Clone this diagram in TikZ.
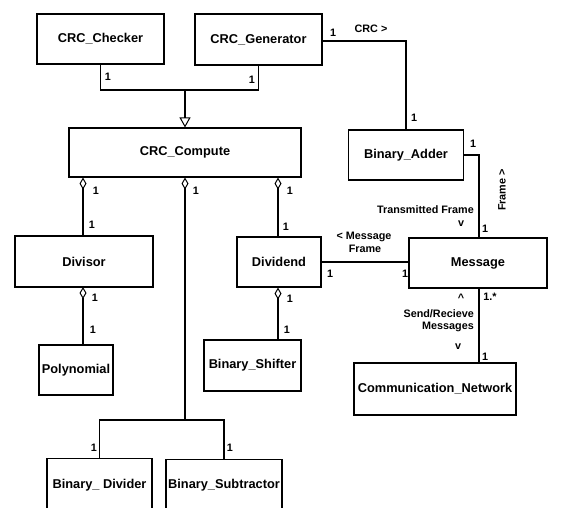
\documentclass[tikz,border=0pt]{standalone}
\usepackage{fontspec}
\setmainfont{Liberation Sans}
\usetikzlibrary{arrows.meta}
\begin{document}
\begin{tikzpicture}[x=1pt,y=-1pt,
  box/.style={draw,line width=1.1pt,inner sep=0pt,font=\fontsize{12.8}{15}\selectfont\bfseries},
  btext/.style={inner sep=0pt,font=\fontsize{12.8}{15}\selectfont\bfseries},
  lbl/.style={inner sep=0pt,font=\fontsize{10.8}{12}\selectfont\bfseries},
  conn/.style={line width=1.1pt},
  agg/.style={conn,{Diamond[open,length=12pt,width=7pt,line width=1pt]}-},
  gen/.style={conn,-{Triangle[open,length=10pt,width=11pt,line width=1pt]}}]
\useasboundingbox (0,0) rectangle (573,507);
% boxes
\node[box,minimum width=127pt,minimum height=50pt] (chk) at (100.5,39) {CRC\_Checker};
\node[box,minimum width=127pt,minimum height=51pt] (gen) at (258.5,39.5) {CRC\_Generator};
\node[box,minimum width=232pt,minimum height=49pt] (cmp) at (185,152.5) {CRC\_Compute};
\node[box,minimum width=115pt,minimum height=50pt] (add) at (406,155) {Binary\_Adder};
\node[box,minimum width=138pt,minimum height=51pt] (dvs) at (84,261.5) {Divisor};
\node[box,minimum width=84pt,minimum height=50pt] (dvd) at (279,262) {Dividend};
\node[box,minimum width=138pt,minimum height=50pt] (msg) at (478,263) {Message};
\node[box,minimum width=74pt,minimum height=50pt] (pol) at (76,370) {Polynomial};
\node[box,minimum width=97pt,minimum height=51pt] (shf) at (252.5,365.5) {Binary\_Shifter};
\node[box,minimum width=162pt,minimum height=52pt] (net) at (435,389) {Communication\_Network};
\node[box,minimum width=105pt,minimum height=62pt,anchor=north] (bdv) at (99.5,458) {};
\node[btext] (bdvt) at (99.5,485) {Binary\_ Divider};
\node[box,minimum width=116pt,minimum height=62pt,anchor=north] (bsb) at (224,459) {};
\node[btext] (bsbt) at (224,485) {Binary\_Subtractor};
% generalization
\coordinate (j) at (185,90);
\draw[conn] (chk.south) |- (j) -| (gen.south);
\draw[gen] (j) -- (cmp.north);
\node[lbl] at (108,77) {1};
\node[lbl] at (252,80) {1};
% aggregations from CRC_Compute
\draw[agg] (cmp.south -| 83,0) -- (83,236);
\draw[agg] (cmp.south) -- (185,420) coordinate (k);
\draw[agg] (cmp.south -| 278,0) -- (dvd.north -| 278,0);
\node[lbl] at (96,191) {1};
\node[lbl] at (92,225) {1};
\node[lbl] at (196,191) {1};
\node[lbl] at (290,191) {1};
\node[lbl] at (286,227) {1};
\draw[conn] (bdv.north) |- (k) -| (bsb.north);
\node[lbl] at (94,448) {1};
\node[lbl] at (230,448) {1};
% Divisor - Polynomial
\draw[agg] (83,287) -- (83,345);
\node[lbl] at (95,298) {1};
\node[lbl] at (93,330) {1};
% Dividend - Binary_Shifter
\draw[agg] (dvd.south -| 278,0) -- (shf.north -| 278,0);
\node[lbl] at (290,299) {1};
\node[lbl] at (287,330) {1};
% Generator - Adder
\draw[conn] (gen.east |- 0,41) -| (add.north);
\node[lbl] at (333,33) {1};
\node[lbl] at (371,29) {CRC >};
\node[lbl] at (414,118) {1};
% Adder - Message
\draw[conn] (add.east) -| (msg.north -| 479,0);
\node[lbl] at (473,144) {1};
\node[lbl,rotate=90] at (502,190) {Frame >};
\node[lbl,anchor=east] at (474,210) {Transmitted Frame};
\node[lbl] at (461,224) {v};
\node[lbl] at (485,229) {1};
% Dividend - Message
\draw[conn] (dvd.east) -- (msg.west |- dvd.east);
\node[lbl] at (364,237) {< Message};
\node[lbl] at (365,249) {Frame};
\node[lbl] at (330,274) {1};
\node[lbl] at (405,274) {1};
% Message - Network
\draw[conn] (msg.south -| 479,0) -- (net.north -| 479,0);
\node[lbl] at (461,298) {\textasciicircum};
\node[lbl] at (490,297) {1.*};
\node[lbl,anchor=east] at (474,314) {Send/Recieve};
\node[lbl,anchor=east] at (474,327) {Messages};
\node[lbl] at (458,347) {v};
\node[lbl] at (485,357) {1};
\end{tikzpicture}
\end{document}
